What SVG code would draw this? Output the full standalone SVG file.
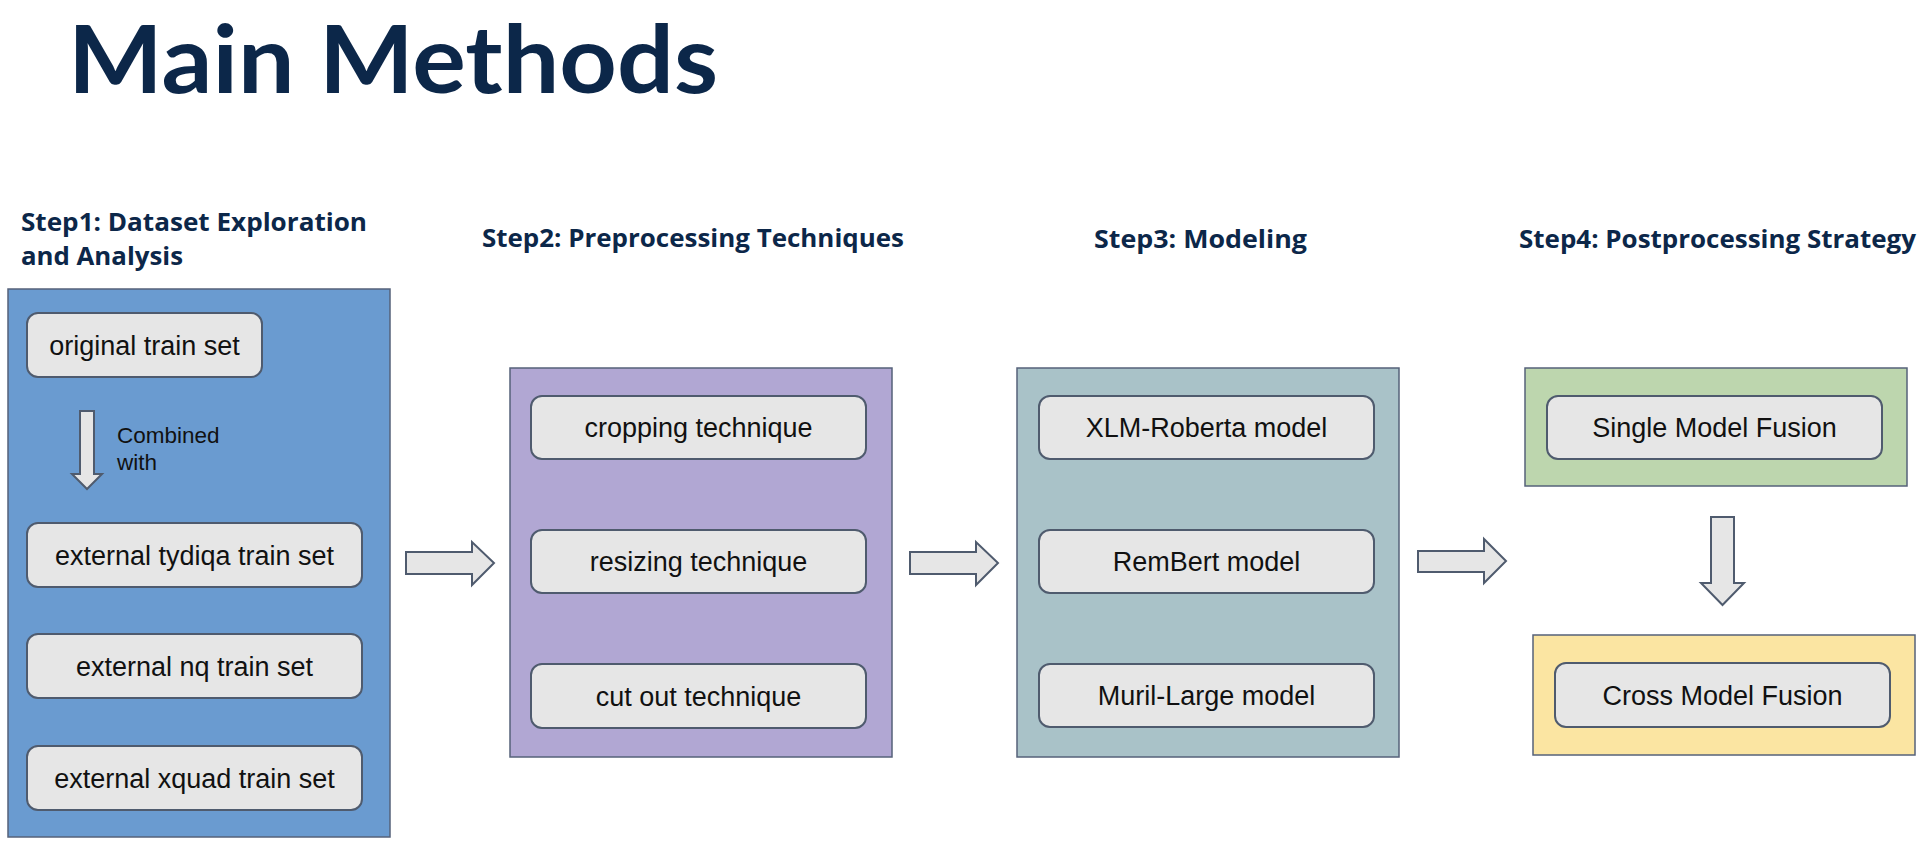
<svg xmlns="http://www.w3.org/2000/svg" width="1924" height="856" viewBox="0 0 1924 856">
<style>
.title{font-family:Lato,"Open Sans","Liberation Sans",sans-serif;font-weight:700;fill:#0c2749}
.head{font-family:"Open Sans","Liberation Sans",sans-serif;font-weight:700;font-size:25px;fill:#0c2749}
.panel{stroke:#56627a;stroke-width:1.5}
.node rect{fill:#e6e6e6;stroke:#4f5b6e;stroke-width:2}
.node text{font-family:"Liberation Sans",Arial,sans-serif;font-size:27px;fill:#111;text-anchor:middle}
.arrow{fill:#e6e6e6;stroke:#4f5b6e;stroke-width:2;stroke-linejoin:miter}
.note{font-family:"Liberation Sans",Arial,sans-serif;font-size:22.5px;fill:#111}
</style>
<rect width="1924" height="856" fill="#ffffff"/>
<text class="title" x="68" y="93" font-size="94" textLength="650" lengthAdjust="spacingAndGlyphs">Main Methods</text>

<g id="headings">
<text class="head" x="21" y="231" textLength="346" lengthAdjust="spacingAndGlyphs">Step1: Dataset Exploration</text>
<text class="head" x="21" y="265" textLength="162" lengthAdjust="spacingAndGlyphs">and Analysis</text>
<text class="head" x="482" y="247" textLength="422" lengthAdjust="spacingAndGlyphs">Step2: Preprocessing Techniques</text>
<text class="head" x="1094" y="248" textLength="213" lengthAdjust="spacingAndGlyphs">Step3: Modeling</text>
<text class="head" x="1519" y="248" textLength="397" lengthAdjust="spacingAndGlyphs">Step4: Postprocessing Strategy</text>
</g>

<g id="step1">
<rect class="panel" x="8" y="289" width="382" height="548" fill="#6a9bd0"/>
<g id="original" class="node"><rect x="27" y="313" width="235" height="64" rx="11"/><text x="144.5" y="354.5">original train set</text></g>
<g id="combined-arrow">
<path class="arrow" d="M80,411 H94 V474 H102 L87,489 L72,474 H80 Z"/>
<text class="note" x="117" y="443">Combined</text>
<text class="note" x="117" y="470">with</text>
</g>
<g id="tydiqa" class="node"><rect x="27" y="523" width="335" height="64" rx="11"/><text x="194.5" y="564.5">external tydiqa train set</text></g>
<g id="nq" class="node"><rect x="27" y="634" width="335" height="64" rx="11"/><text x="194.5" y="675.5">external nq train set</text></g>
<g id="xquad" class="node"><rect x="27" y="746" width="335" height="64" rx="11"/><text x="194.5" y="787.5">external xquad train set</text></g>
</g>

<g id="step2">
<rect class="panel" x="510" y="368" width="382" height="389" fill="#b1a7d3"/>
<g id="cropping" class="node"><rect x="531" y="396" width="335" height="63" rx="11"/><text x="698.5" y="437">cropping technique</text></g>
<g id="resizing" class="node"><rect x="531" y="530" width="335" height="63" rx="11"/><text x="698.5" y="571">resizing technique</text></g>
<g id="cutout" class="node"><rect x="531" y="664" width="335" height="64" rx="11"/><text x="698.5" y="705.5">cut out technique</text></g>
</g>

<g id="step3">
<rect class="panel" x="1017" y="368" width="382" height="389" fill="#a9c2c8"/>
<g id="xlm" class="node"><rect x="1039" y="396" width="335" height="63" rx="11"/><text x="1206.5" y="437">XLM-Roberta model</text></g>
<g id="rembert" class="node"><rect x="1039" y="530" width="335" height="63" rx="11"/><text x="1206.5" y="571">RemBert model</text></g>
<g id="muril" class="node"><rect x="1039" y="664" width="335" height="63" rx="11"/><text x="1206.5" y="705">Muril-Large model</text></g>
</g>

<g id="step4-single">
<rect class="panel" x="1525" y="368" width="382" height="118" fill="#bdd6ae"/>
<g id="single" class="node"><rect x="1547" y="396" width="335" height="63" rx="11"/><text x="1714.5" y="437">Single Model Fusion</text></g>
</g>
<g id="step4-cross">
<rect class="panel" x="1533" y="635" width="382" height="120" fill="#fbe5a2"/>
<g id="cross" class="node"><rect x="1555" y="663" width="335" height="64" rx="11"/><text x="1722.5" y="704.5">Cross Model Fusion</text></g>
</g>

<g id="connectors">
<path class="arrow" d="M406,552 H472 V542 L494,563 L472,585 V574 H406 Z"/>
<path class="arrow" d="M910,552 H976 V542 L998,563 L976,585 V574 H910 Z"/>
<path class="arrow" d="M1418,551 H1484 V539 L1506,561 L1484,583 V572 H1418 Z"/>
<path class="arrow" d="M1711,517 H1734 V583 H1744 L1722.5,605 L1701,583 H1711 Z"/>
</g>
</svg>
